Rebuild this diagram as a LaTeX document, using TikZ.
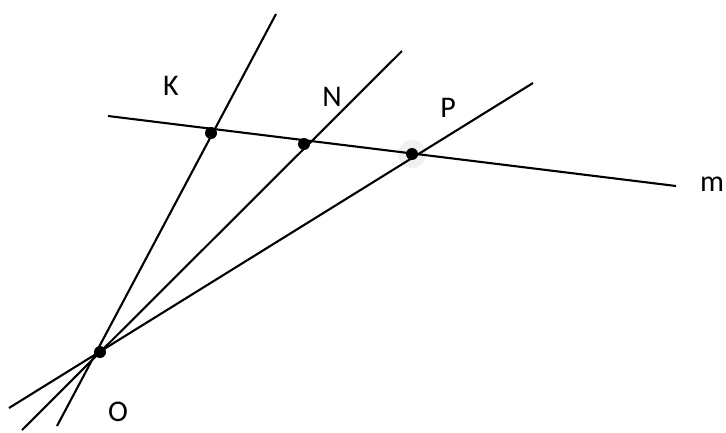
\documentclass[tikz,border=0pt]{standalone}
\usepackage{fontspec}
\setmainfont{Carlito}
\begin{document}
\begin{tikzpicture}[x=1pt,y=-1pt,
  ln/.style={line width=2.1pt, black},
  dot/.style={circle, fill=black, inner sep=0pt, minimum size=12pt},
  lbl/.style={font=\fontsize{30}{35}\selectfont, inner sep=0pt}]
\useasboundingbox (0,0) rectangle (726,432);
% points
\coordinate (O) at (100,352);
\coordinate (K) at (211,133);
\coordinate (N) at (304,144);
\coordinate (P) at (412,154);
% line ends
\coordinate (Kt) at (276,14);
\coordinate (Kb) at (57,426);
\coordinate (Nt) at (402,51);
\coordinate (Nb) at (22,430);
\coordinate (Pt) at (533,83);
\coordinate (Pb) at (9,408);
\coordinate (ml) at (108,116);
\coordinate (mr) at (676,186);
% halo
\fill[gray!12] (P) circle (14pt);
% lines
\draw[ln] (Kb) -- (Kt);
\draw[ln] (Nb) -- (Nt);
\draw[ln] (Pb) -- (Pt);
\draw[ln] (ml) -- (mr);
% dots
\node[dot] (dO) at (O) {};
\node[dot] (dK) at (K) {};
\node[dot] (dN) at (N) {};
\node[dot] (dP) at (P) {};
% labels
\node[lbl] (lK) at (171,86) {K};
\node[lbl] (lN) at (332,97) {N};
\node[lbl] (lP) at (448,108) {P};
\node[lbl] (lm) at (712,184) {m};
\node[lbl] (lO) at (118,412) {O};
\end{tikzpicture}
\end{document}
